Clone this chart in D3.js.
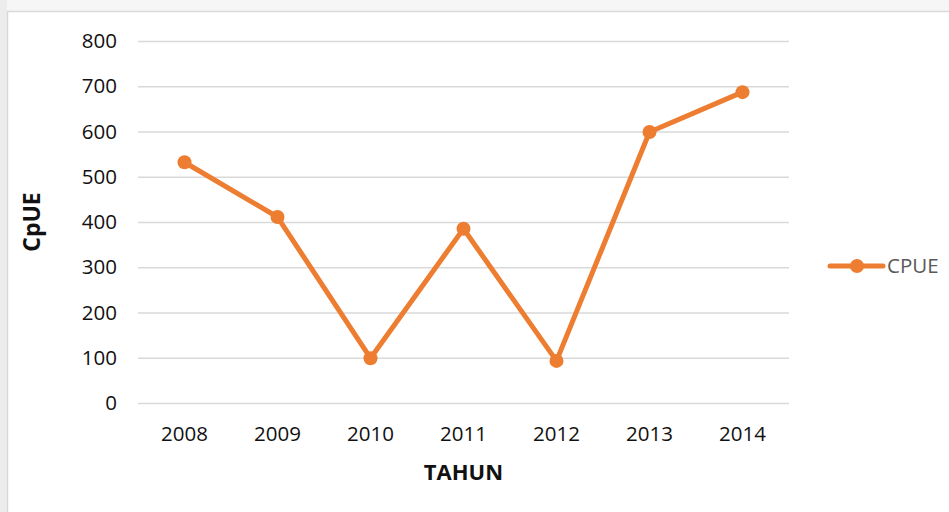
<!DOCTYPE html>
<html><head><meta charset="utf-8">
<script src="https://cdn.jsdelivr.net/npm/d3@7"></script>
<style>body{margin:0;background:#fff}svg{display:block}</style>
</head><body>
<script>
const categories = ["2008","2009","2010","2011","2012","2013","2014"];
const cpueValues = [532, 411, 99, 385, 93, 599, 687];
const yTicks = [0,100,200,300,400,500,600,700,800];
const seriesName = "CPUE";
const yTitle = "CpUE";
const xTitle = "TAHUN";

const W = 949, H = 512;
const svg = d3.select("body").append("svg").attr("width", W).attr("height", H);
const font = "'Open Sans', 'DejaVu Sans', sans-serif";
const orange = "#ED7D31";

svg.append("rect").attr("width", W).attr("height", H).attr("fill", "#f6f6f6");
svg.append("rect").attr("x", 0).attr("y", 0).attr("width", 7).attr("height", H).attr("fill", "#ececec");
svg.append("rect").attr("x", 7.5).attr("y", 11.5).attr("width", W).attr("height", H)
  .attr("fill", "#fff").attr("stroke", "#d9d9d9").attr("stroke-width", 1.5);

const plot = {left: 138, right: 789, top: 41, bottom: 403};
const x = d3.scaleBand().domain(categories).range([plot.left, plot.right]);
const y = d3.scaleLinear().domain([0, 800]).range([plot.bottom, plot.top]);

const gAxisY = svg.append("g").attr("transform", `translate(${plot.left},0)`)
  .call(d3.axisLeft(y).tickValues(yTicks).tickSize(-(plot.right - plot.left)).tickPadding(21).tickFormat(d3.format("d")));
gAxisY.select(".domain").remove();
gAxisY.selectAll(".tick line").attr("stroke", "#d9d9d9").attr("stroke-width", 1.5);
gAxisY.selectAll(".tick text").attr("font-family", font).attr("font-size", 20.5).attr("fill", "#111");

const gAxisX = svg.append("g").attr("transform", `translate(0,${plot.bottom})`)
  .call(d3.axisBottom(x).tickSize(0).tickPadding(23));
gAxisX.select(".domain").remove();
gAxisX.selectAll(".tick text").attr("font-family", font).attr("font-size", 20.5).attr("fill", "#111");

const line = d3.line().x((d, i) => x(categories[i]) + x.bandwidth() / 2).y(d => y(d));
svg.append("path").datum(cpueValues).attr("d", line).attr("fill", "none")
  .attr("stroke", orange).attr("stroke-width", 5).attr("stroke-linejoin", "round").attr("stroke-linecap", "round");
svg.selectAll("circle.pt").data(cpueValues).enter().append("circle").attr("class", "pt")
  .attr("cx", (d, i) => x(categories[i]) + x.bandwidth() / 2).attr("cy", d => y(d))
  .attr("r", 7).attr("fill", orange);

svg.append("text").attr("transform", "translate(40,222) rotate(-90)").attr("text-anchor", "middle")
  .attr("font-family", font).attr("font-weight", "bold").attr("font-size", 23).attr("fill", "#111").text(yTitle);
svg.append("text").attr("x", (plot.left + plot.right) / 2).attr("y", 480).attr("text-anchor", "middle")
  .attr("font-family", font).attr("font-weight", "bold").attr("font-size", 22).attr("fill", "#111").text(xTitle);

const ly = 266;
svg.append("line").attr("x1", 830).attr("x2", 883).attr("y1", ly).attr("y2", ly)
  .attr("stroke", orange).attr("stroke-width", 5).attr("stroke-linecap", "round");
svg.append("circle").attr("cx", 857).attr("cy", ly).attr("r", 7).attr("fill", orange);
svg.append("text").attr("x", 887).attr("y", ly + 7).attr("font-family", font).attr("font-size", 20.5)
  .attr("fill", "#595959").text(seriesName);
</script>
</body></html>
